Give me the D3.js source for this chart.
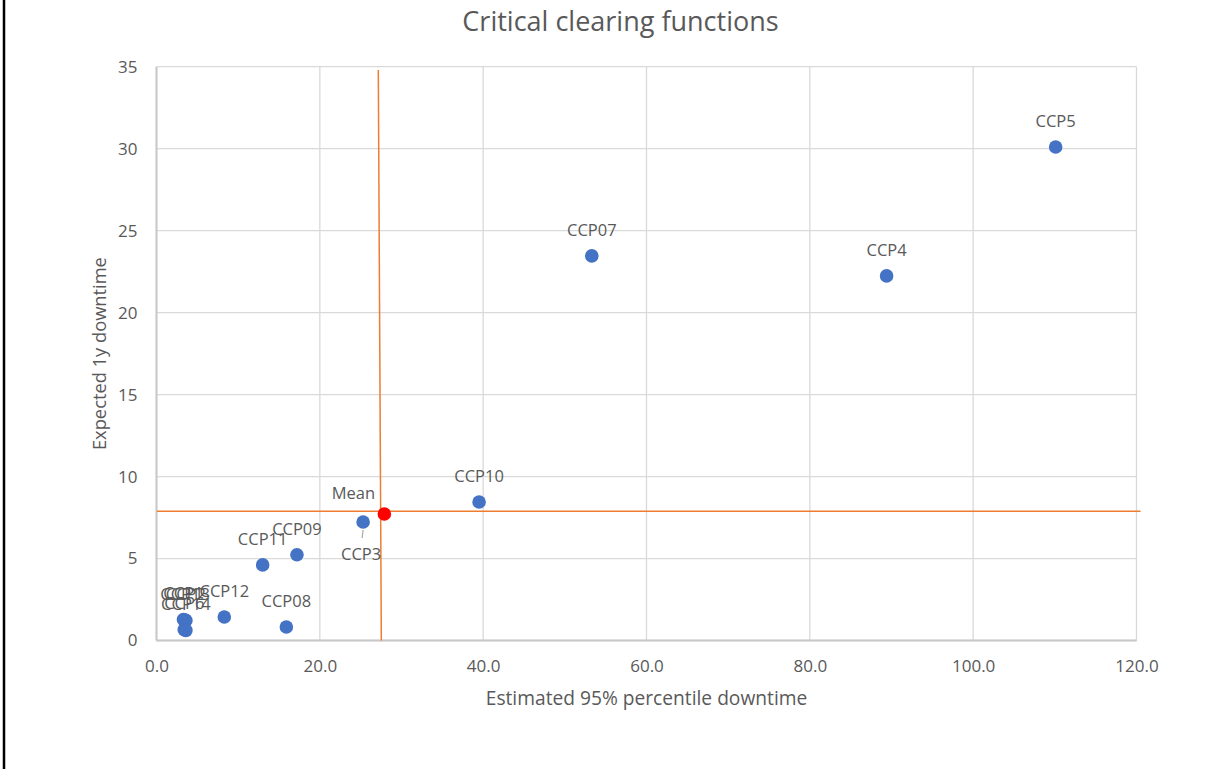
<!DOCTYPE html>
<html><head><meta charset="utf-8">
<script src="https://cdn.jsdelivr.net/npm/d3@7"></script>
<style>
html,body{margin:0;padding:0;background:#fff;}
svg{display:block;font-family:"Open Sans",sans-serif;}
</style></head>
<body><div id="chart"></div>
<script>
// ---- data ----
const labels  = ["CCP5","CCP4","CCP07","CCP10","CCP3","CCP09","CCP11","CCP12","CCP08","CCP1","CCP2","CCP13","CCP6","CCP14"];
const xValues = [110.1, 89.4, 53.3, 39.5, 25.3, 17.2, 13.0, 8.3, 15.9, 3.3, 3.6, 3.5, 3.4, 3.6];
const yValues = [30.1, 22.24, 23.46, 8.45, 7.23, 5.23, 4.61, 1.43, 0.82, 1.28, 1.22, 1.25, 0.66, 0.62];
const meanPoint = {label:"Mean", x:27.9, y:7.72};
const meanHLineX = [0.05, 120.5];
const meanHLineY = [7.88, 7.88];
const meanVLineX = [27.53, 27.16];
const meanVLineY = [0, 34.8];
const xTicks = [0,20,40,60,80,100,120];
const yTicks = [0,5,10,15,20,25,30,35];
const title = "Critical clearing functions";
const xTitle = "Estimated 95% percentile downtime";
const yTitle = "Expected 1y downtime";

// ---- layout ----
const W = 1205, H = 769;
const m = {left:156.5, right:W-1136.5, top:66.7, bottom:H-640.5};
const svg = d3.select("#chart").append("svg").attr("width",W).attr("height",H);
const x = d3.scaleLinear().domain([0,120]).range([m.left, W-m.right]);
const y = d3.scaleLinear().domain([0,35]).range([H-m.bottom, m.top]);
const textCol = "#595959", gridCol = "#d9d9d9";

// left frame line
svg.append("line").attr("x1",4).attr("x2",4).attr("y1",0).attr("y2",H)
  .attr("stroke","#000").attr("stroke-width",2.5);

// gridlines
svg.append("g").selectAll("line").data(yTicks).join("line")
  .attr("x1",x(0)).attr("x2",x(120)).attr("y1",d=>y(d)).attr("y2",d=>y(d))
  .attr("stroke",gridCol).attr("stroke-width",1.3);
svg.append("g").selectAll("line").data(xTicks).join("line")
  .attr("y1",y(0)).attr("y2",y(35)).attr("x1",d=>x(d)).attr("x2",d=>x(d))
  .attr("stroke",gridCol).attr("stroke-width",1.3);
// axis lines slightly darker
svg.append("line").attr("x1",x(0)).attr("x2",x(120)).attr("y1",y(0)).attr("y2",y(0)).attr("stroke","#c8c8c8").attr("stroke-width",2);
svg.append("line").attr("x1",x(0)).attr("x2",x(0)).attr("y1",y(0)).attr("y2",y(35)).attr("stroke","#c8c8c8").attr("stroke-width",2);

// axes (tick labels)
const xAxis = d3.axisBottom(x).tickValues(xTicks).tickFormat(d3.format(".1f")).tickSize(0).tickPadding(19);
const gx = svg.append("g").attr("transform",`translate(0,${y(0)})`).call(xAxis);
const yAxis = d3.axisLeft(y).tickValues(yTicks).tickFormat(d3.format("d")).tickSize(0).tickPadding(19);
const gy = svg.append("g").attr("transform",`translate(${x(0)},0)`).call(yAxis);
[gx,gy].forEach(g=>{
  g.select(".domain").remove();
  g.selectAll("text").attr("fill",textCol).attr("font-size",17).attr("font-family","Open Sans");
});

// mean lines
const line = d3.line().x(d=>x(d[0])).y(d=>y(d[1]));
svg.append("path").attr("d",line(d3.zip(meanHLineX,meanHLineY)))
  .attr("stroke","#ED7D31").attr("stroke-width",1.5).attr("fill","none");
svg.append("path").attr("d",line(d3.zip(meanVLineX,meanVLineY)))
  .attr("stroke","#ED7D31").attr("stroke-width",1.5).attr("fill","none");

// points
const pts = labels.map((l,i)=>({label:l,x:xValues[i],y:yValues[i]}));
svg.append("g").selectAll("circle").data(pts).join("circle")
  .attr("cx",d=>x(d.x)).attr("cy",d=>y(d.y)).attr("r",6.8).attr("fill","#4472C4");
svg.append("circle").attr("cx",x(meanPoint.x)).attr("cy",y(meanPoint.y)).attr("r",6.8).attr("fill","#FF0000");

// data labels (style offsets)
const labelOffset = {"CCP3":[-2,32]};
svg.append("g").selectAll("text").data(pts).join("text")
  .attr("x",d=>x(d.x)+(labelOffset[d.label]?labelOffset[d.label][0]:0))
  .attr("y",d=>y(d.y)+(labelOffset[d.label]?labelOffset[d.label][1]:-26))
  .attr("dy","0.35em").attr("text-anchor","middle")
  .attr("font-size",16.5).attr("fill",textCol).text(d=>d.label);
// leader line CCP3
const c3 = pts.find(d=>d.label==="CCP3");
svg.append("line").attr("x1",x(c3.x)).attr("y1",y(c3.y)+8).attr("x2",x(c3.x)-1).attr("y2",y(c3.y)+16)
  .attr("stroke","#a6a6a6").attr("stroke-width",1.2);
svg.append("text").attr("x",x(meanPoint.x)-31).attr("y",y(meanPoint.y)-21).attr("dy","0.35em")
  .attr("text-anchor","middle").attr("font-size",16.5).attr("fill",textCol).text(meanPoint.label);

// titles
svg.append("text").attr("x",620.5).attr("y",22).attr("dy","0.35em").attr("text-anchor","middle")
  .attr("font-size",27).attr("fill",textCol).text(title);
svg.append("text").attr("x",(x(0)+x(120))/2).attr("y",698).attr("dy","0.35em").attr("text-anchor","middle")
  .attr("font-size",19.2).attr("fill",textCol).text(xTitle);
svg.append("text").attr("transform",`translate(100,${(y(0)+y(35))/2}) rotate(-90)`).attr("dy","0.35em")
  .attr("text-anchor","middle").attr("font-size",18.3).attr("fill",textCol).text(yTitle);
</script></body></html>
